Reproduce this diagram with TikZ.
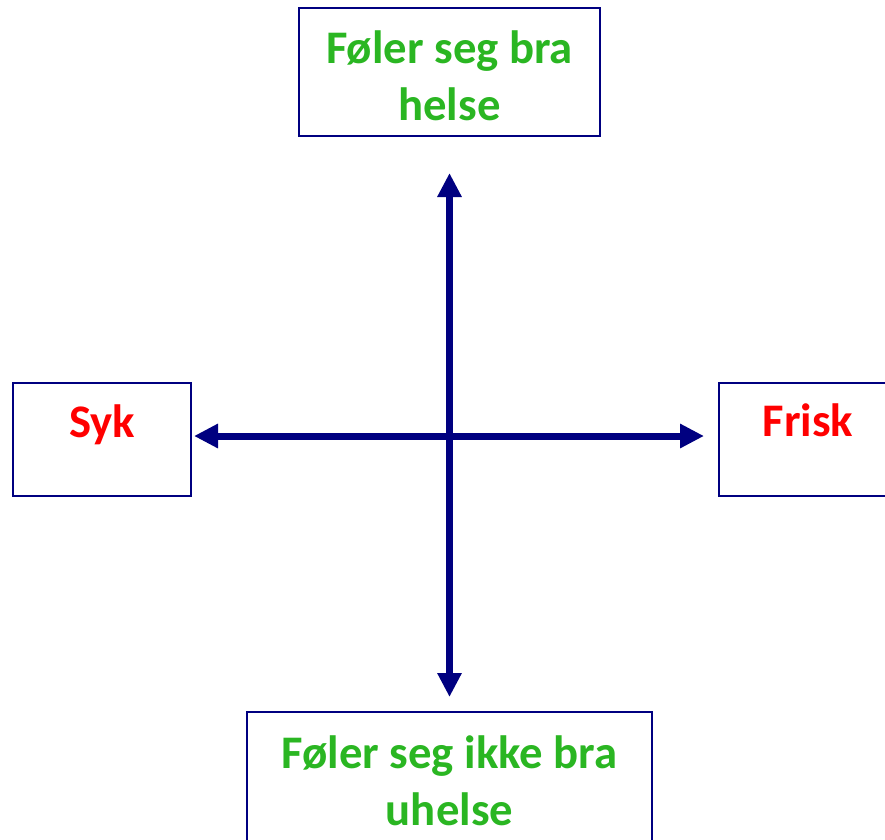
\documentclass[tikz,border=0pt]{standalone}
\usepackage{fontspec}
\setmainfont{Carlito}
\usetikzlibrary{arrows.meta}
\definecolor{navy}{RGB}{0,0,128}
\definecolor{grn}{RGB}{42,182,34}
\definecolor{rd}{RGB}{255,0,0}
\tikzset{
  box/.style={draw=navy, line width=2pt, inner sep=0pt},
  lbl/.style={font=\fontsize{46.7}{57}\selectfont\bfseries, anchor=base, inner sep=0pt},
  axis/.style={draw=navy, line width=7pt, {Triangle[length=24pt,width=23pt]}-{Triangle[length=24pt,width=23pt]}}
}
\begin{document}
\begin{tikzpicture}[x=1pt,y=-1pt]
\clip (0,0) rectangle (885,839);
\fill[white] (0,0) rectangle (885,839);
% boxes
\node[box, minimum width=301pt, minimum height=128pt] (top) at (449.5,72) {};
\node[box, minimum width=178pt, minimum height=113pt] (left) at (102,439.5) {};
\node[box, minimum width=178pt, minimum height=113pt] (right) at (808,439.5) {};
\node[box, minimum width=405pt, minimum height=134pt] (bottom) at (449.5,779) {};
% labels
\node[lbl, text=grn] (t1) at (449.5,63) {Føler seg bra};
\node[lbl, text=grn] (t2) at (449.5,120) {helse};
\node[lbl, text=rd] (syk) at (102,437) {Syk};
\node[lbl, text=rd] (frisk) at (808,436) {Frisk};
\node[lbl, text=grn] (b1) at (449.5,768) {Føler seg ikke bra};
\node[lbl, text=grn] (b2) at (449.5,825) {uhelse};
% axes
\coordinate (n) at (449.5,173);
\coordinate (s) at (449.5,697);
\coordinate (w) at (194,436);
\coordinate (e) at (704,436);
\draw[axis] (n) -- (s);
\draw[axis] (w) -- (e);
\end{tikzpicture}
\end{document}
